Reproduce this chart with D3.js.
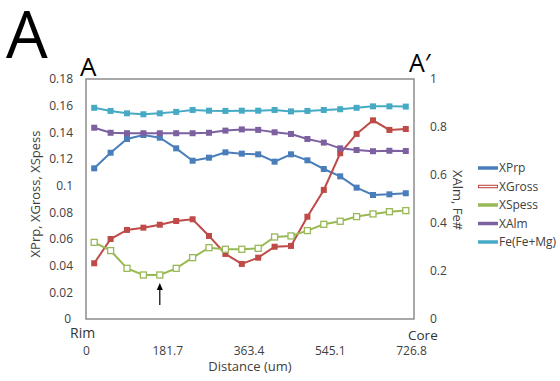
<!DOCTYPE html>
<html>
<head>
<meta charset="utf-8">
<script src="https://cdnjs.cloudflare.com/ajax/libs/d3/7.8.5/d3.min.js"></script>
<style>
  body { margin: 0; background: #fff; }
  svg { font-family: "Open Sans", sans-serif; }
</style>
</head>
<body>
<div id="chart"></div>
<script>
// profile from rim to core, 20 analysis points
const xprp = [0.113, 0.1247, 0.135, 0.138, 0.136, 0.128, 0.1187, 0.121, 0.125, 0.124,
              0.1235, 0.118, 0.1235, 0.119, 0.1125, 0.107, 0.0985, 0.093, 0.0935, 0.0943];
const xgross = [0.0418, 0.060, 0.0668, 0.0685, 0.0707, 0.0735, 0.0748, 0.0623, 0.0488, 0.0413,
                0.046, 0.0542, 0.0548, 0.0767, 0.0968, 0.1243, 0.1388, 0.149, 0.1418, 0.1425];
const xspess = [0.0575, 0.0513, 0.038, 0.033, 0.033, 0.038, 0.046, 0.0535, 0.0523, 0.0523,
                0.053, 0.0615, 0.0623, 0.0663, 0.071, 0.0733, 0.0768, 0.0788, 0.0805, 0.0813];
// right axis
const xalm = [0.797, 0.776, 0.774, 0.774, 0.774, 0.774, 0.774, 0.776, 0.785, 0.790,
              0.788, 0.778, 0.771, 0.750, 0.735, 0.711, 0.704, 0.699, 0.701, 0.700];
const feNum = [0.880, 0.867, 0.857, 0.853, 0.857, 0.863, 0.871, 0.868, 0.867, 0.868,
               0.868, 0.871, 0.865, 0.867, 0.871, 0.874, 0.880, 0.886, 0.886, 0.885];

const leftTicks = [0, 0.02, 0.04, 0.06, 0.08, 0.1, 0.12, 0.14, 0.16, 0.18];
const rightTicks = [0, 0.2, 0.4, 0.6, 0.8, 1];
const distanceTicks = [0, 181.7, 363.4, 545.1, 726.8];
const arrowAt = 4;

const series = [
  { name: 'XPrp', values: xprp, axis: 'left', color: '#4a7ebb', hollow: false },
  { name: 'XGross', values: xgross, axis: 'left', color: '#be4b48', hollow: false },
  { name: 'XSpess', values: xspess, axis: 'left', color: '#98b954', hollow: true },
  { name: 'XAlm', values: xalm, axis: 'right', color: '#7d60a0', hollow: false },
  { name: 'Fe(Fe+Mg)', values: feNum, axis: 'right', color: '#46aac5', hollow: false }
];

const W = 560, H = 381;
const margin = { top: 79, left: 86, right: 146, bottom: 62 };
const width = W - margin.left - margin.right;
const height = H - margin.top - margin.bottom;

const svg = d3.select('#chart').append('svg')
  .attr('width', W)
  .attr('height', H);

const idx = d3.range(xprp.length);
const x = d3.scalePoint().domain(idx).range([0, width]).padding(0.5);
const xDist = d3.scaleLinear().domain([0, 726.8]).range([0, width - 3]);
const yLeft = d3.scaleLinear().domain([0, 0.18]).range([height, 0]);
const yRight = d3.scaleLinear().domain([0, 1]).range([height, 0]);

const chart = svg.append('g')
  .attr('transform', `translate(${margin.left}, ${margin.top})`);

// big panel letter and section ends
svg.append('text').attr('x', 6).attr('y', 58)
  .attr('font-size', 66).attr('fill', '#000').text('A');
svg.append('text').attr('x', 80).attr('y', 76)
  .attr('font-size', 26).attr('fill', '#000').text('A');
svg.append('text').attr('x', 409).attr('y', 72)
  .attr('font-size', 25).attr('fill', '#000').text('A\u2032');

// axes
const leftAxis = chart.append('g')
  .call(d3.axisLeft(yLeft).tickValues(leftTicks).tickSize(0).tickPadding(13)
    .tickFormat(d => String(+d.toFixed(2))));
const rightAxis = chart.append('g')
  .attr('transform', `translate(${width}, 0)`)
  .call(d3.axisRight(yRight).tickValues(rightTicks).tickSize(0).tickPadding(16)
    .tickFormat(d => String(+d.toFixed(1))));
const bottomAxis = chart.append('g')
  .attr('transform', `translate(0, ${height + 27})`)
  .call(d3.axisBottom(xDist).tickValues(distanceTicks).tickSize(0).tickPadding(0)
    .tickFormat(d => String(d)));

[leftAxis, rightAxis, bottomAxis].forEach(a => {
  a.select('.domain').remove();
  a.selectAll('text').attr('font-size', 12).attr('fill', '#404040')
    .attr('font-family', '"Open Sans", sans-serif');
});
leftAxis.selectAll('.tick').filter(d => d === 0).select('text').attr('dx', -2);

// plot frame
chart.append('rect')
  .attr('width', width).attr('height', height)
  .attr('fill', 'none').attr('stroke', '#8c8c8c').attr('stroke-width', 1.5);

// lines and markers
series.forEach(s => {
  const y = s.axis === 'left' ? yLeft : yRight;
  const line = d3.line().x((d, i) => x(i)).y(d => y(d));
  chart.append('path')
    .datum(s.values)
    .attr('fill', 'none')
    .attr('stroke', s.color)
    .attr('stroke-width', 2)
    .attr('d', line);
  chart.append('g').selectAll('rect')
    .data(s.values)
    .join('rect')
    .attr('x', (d, i) => x(i) - 3)
    .attr('y', d => y(d) - 3)
    .attr('width', 6).attr('height', 6)
    .attr('fill', s.hollow ? '#fff' : s.color)
    .attr('stroke', s.hollow ? s.color : 'none')
    .attr('stroke-width', 1.3);
});

// arrow under the XSpess minimum
const ax = x(arrowAt);
const ay = yLeft(xspess[arrowAt]);
chart.append('line')
  .attr('x1', ax).attr('x2', ax)
  .attr('y1', ay + 30).attr('y2', ay + 11)
  .attr('stroke', '#000').attr('stroke-width', 1.2);
chart.append('path')
  .attr('d', `M${ax - 3},${ay + 15} L${ax},${ay + 8} L${ax + 3},${ay + 15} Z`)
  .attr('fill', '#000');

// axis titles
svg.append('text')
  .attr('transform', `translate(40, ${margin.top + height / 2 - 5}) rotate(-90)`)
  .attr('text-anchor', 'middle').attr('font-size', 13).attr('fill', '#404040')
  .text('XPrp, XGross, XSpess');
svg.append('text')
  .attr('transform', `translate(453, ${margin.top + height / 2 + 1}) rotate(90)`)
  .attr('text-anchor', 'middle').attr('font-size', 13).attr('fill', '#404040')
  .text('XAlm, Fe#');
svg.append('text')
  .attr('x', margin.left + width / 2).attr('y', 371)
  .attr('text-anchor', 'middle').attr('font-size', 13).attr('fill', '#404040')
  .text('Distance (um)');

svg.append('text').attr('x', 70).attr('y', 338)
  .attr('font-size', 14).attr('fill', '#333').text('Rim');
svg.append('text').attr('x', 408).attr('y', 340)
  .attr('font-size', 13.5).attr('fill', '#333').text('Core');

// legend
const legend = svg.append('g').attr('transform', 'translate(478, 168)');
series.forEach((s, i) => {
  const g = legend.append('g').attr('transform', `translate(0, ${i * 18.5})`);
  g.append('line').attr('x1', 0).attr('x2', 20)
    .attr('stroke', s.color).attr('stroke-width', 3.5);
  if (s.name === 'XGross') {
    g.append('line').attr('x1', 1).attr('x2', 19)
      .attr('stroke', '#fff').attr('stroke-width', 1.3);
  }
  g.append('text').attr('x', 21).attr('y', 4)
    .attr('font-size', 12).attr('fill', '#404040').text(s.name);
});
</script>
</body>
</html>
